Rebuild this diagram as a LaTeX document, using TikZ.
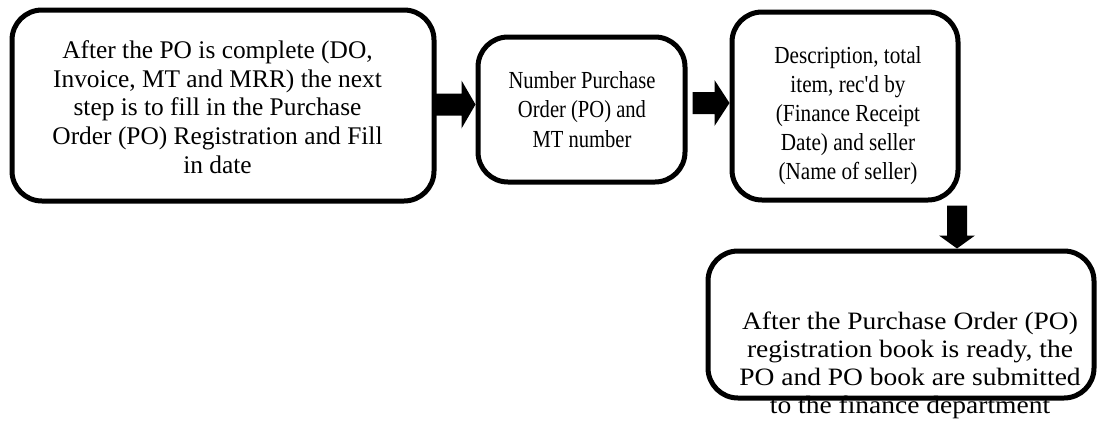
\documentclass[tikz,border=0pt]{standalone}
\usepackage{fontspec}
\usepackage{graphicx}
\setmainfont{Liberation Serif}
\usetikzlibrary{calc}
\newcommand\sxtext[4]{{\fontsize{#2}{#3}\selectfont\scalebox{#1}[1]{\begin{tabular}[t]{@{}c@{}}#4\end{tabular}}}}
\begin{document}
\begin{tikzpicture}[x=1pt,y=-1pt,
  box/.style={draw=black,line width=5pt,rounded corners=30pt,inner sep=0pt,anchor=center},
  txt/.style={inner sep=0pt,anchor=base},
  blk/.style={fill=black}]
\useasboundingbox (0,0) rectangle (1098,426);
% texts
\node[txt] (t1) at (217.5,58.5) {\sxtext{1}{25.4}{28.7}{After the PO is complete (DO,\\Invoice, MT and MRR) the next\\step is to fill in the Purchase\\Order (PO) Registration and Fill\\in date}};
\node[txt] (t2) at (582,88) {\sxtext{0.84}{24.5}{29.5}{Number Purchase\\Order (PO) and\\MT number}};
\node[txt] (t3) at (848,63) {\sxtext{0.865}{24.5}{29.2}{Description, total\\item, rec\textquotesingle d by\\(Finance Receipt\\Date) and seller\\(Name of seller)}};
\node[txt] (t4) at (910,329) {\sxtext{1.1}{25}{28.3}{After the Purchase Order (PO)\\registration book is ready, the\\PO and PO book are submitted\\to the finance department}};
% boxes
\node[box,minimum width=422pt,minimum height=191pt] (b1) at (223,105.5) {};
\node[box,minimum width=207pt,minimum height=145pt] (b2) at (581.5,109.5) {};
\node[box,minimum width=226pt,minimum height=188pt] (b3) at (845,106) {};
\node[box,minimum width=386pt,minimum height=147pt] (b4) at (901,324.5) {};
% arrows
\coordinate (a1) at ($(b2.west)+(0,-5)$);
\fill[blk] (a1) -- ++(-14,-24) -- ++(0,13) -- ++(-27,0) -- ++(0,22) -- ++(27,0) -- ++(0,13) -- cycle;
\coordinate (a2) at ($(b3.west)+(0,-3)$);
\fill[blk] (a2) -- ++(-15,-23) -- ++(0,12) -- ++(-22,0) -- ++(0,22) -- ++(22,0) -- ++(0,12) -- cycle;
\coordinate (a3) at ($(b4.north)+(56,0)$);
\fill[blk] (a3) -- ++(-18,-13) -- ++(8,0) -- ++(0,-30) -- ++(20,0) -- ++(0,30) -- ++(8,0) -- cycle;
\end{tikzpicture}
\end{document}
